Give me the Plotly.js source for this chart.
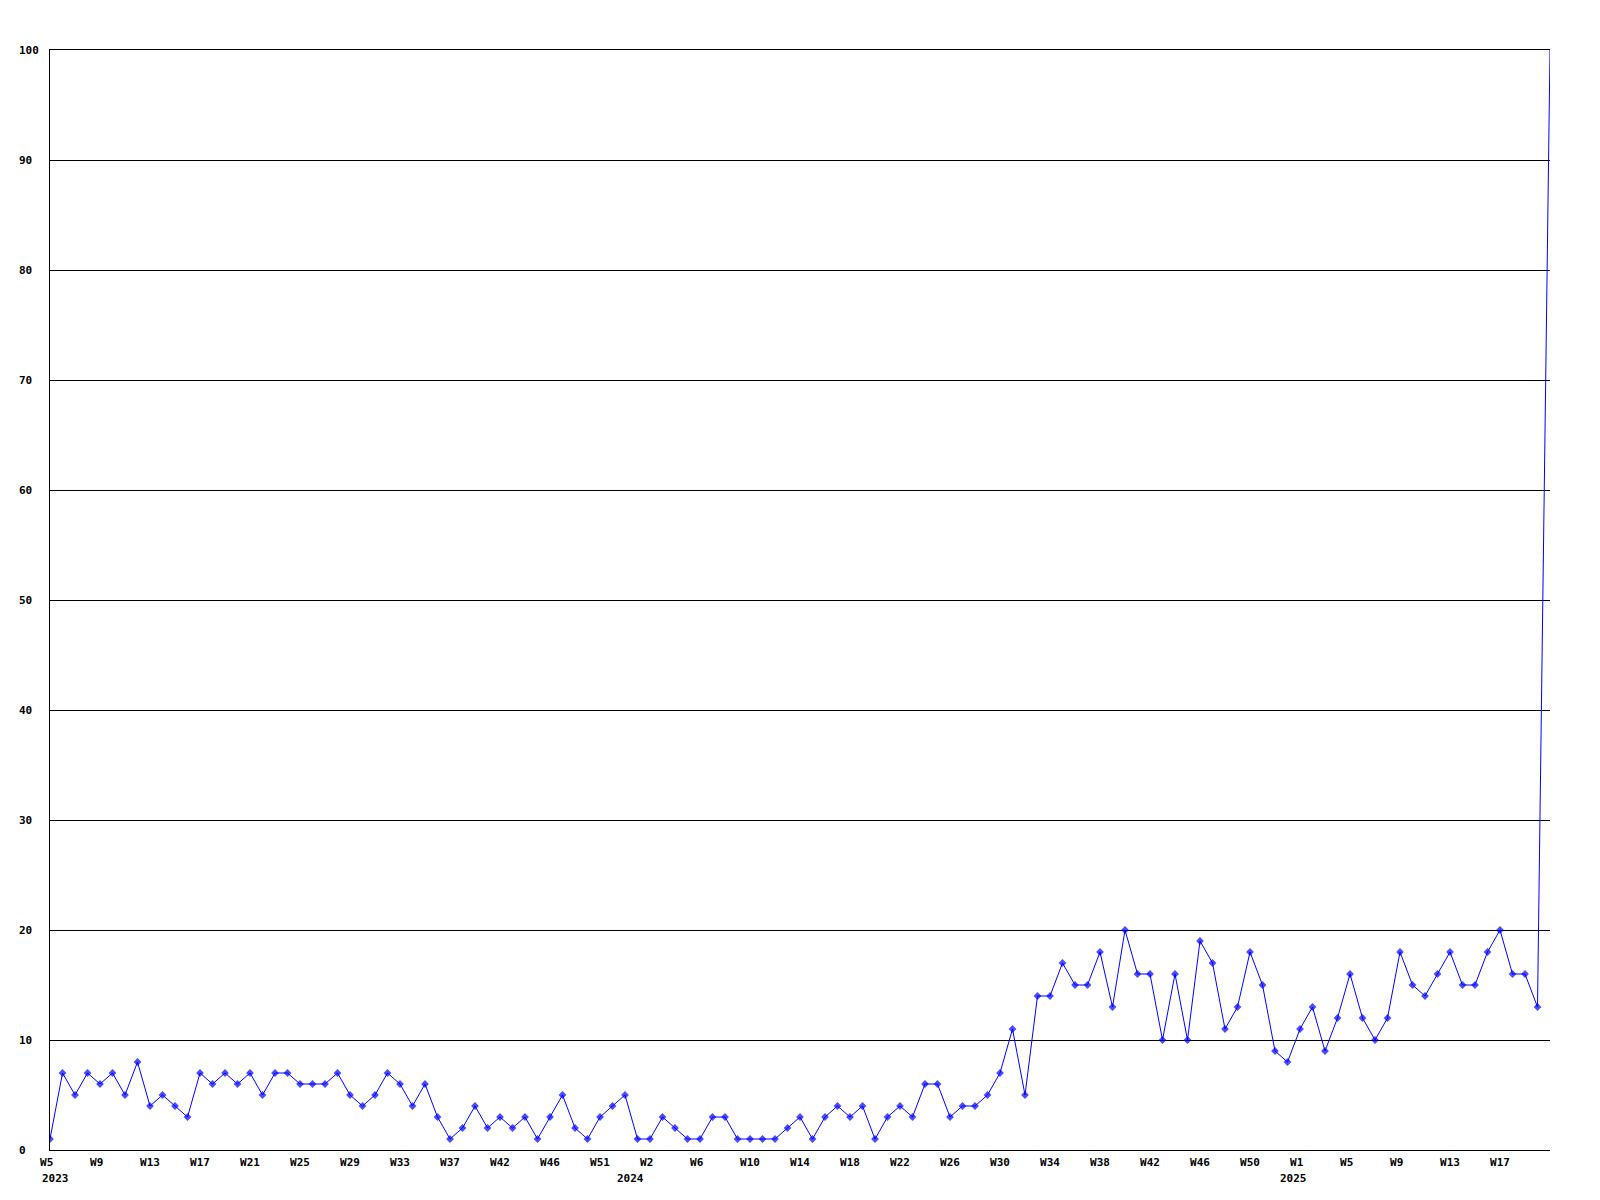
<!DOCTYPE html>
<html>
<head>
<meta charset="utf-8">
<script src="https://cdn.plot.ly/plotly-3.0.1.min.js"></script>
<style>html,body{margin:0;padding:0;background:#fff;}#chart{width:1600px;height:1200px;}</style>
</head>
<body>
<div id="chart"></div>
<script>
// Weekly values, 2023 W5 onward (one per week)
const values2023 = [1,7,5,7,6,7,5,8,4,5,4,3,7,6,7,6,7,5,7,7,6,6,6,7,5,4,5,7,6,4,6,3,1,2,4,2,3,2,3,1,3,5,2,1,3,4,5,1];
const values2024 = [1,3,2,1,1,3,3,1,1,1,1,2,3,1,3,4,3,4,1,3,4,3,6,6,3,4,4,5,7,11,5,14,14,17,15,15,18,13,20,16,16,10,16,10,19,17,11,13,18,15,9,8];
const values2025 = [11,13,9,12,16,12,10,12,18,15,14,16,18,15,15,18,20,16,16,13,100];

const tickLabels = ["W5","W9","W13","W17","W21","W25","W29","W33","W37","W42","W46","W51",
  "W2","W6","W10","W14","W18","W22","W26","W30","W34","W38","W42","W46","W50",
  "W1","W5","W9","W13","W17"];
const yearLabels = ["2023","2024","2025"];
const yearIndex = [0,46,99];

const yTickValues = [0,10,20,30,40,50,60,70,80,90,100];

const values = values2023.concat(values2024, values2025);
const xs = values.map((v,i)=>i);
const tickEvery = 4;
const tickVals = tickLabels.map((t,i)=>i*tickEvery);
const pad = (s,n)=>s + "\u00a0".repeat(Math.max(0,n-s.length));

const font = {family:"DejaVu Sans Mono, Liberation Mono, monospace", size:11, color:"#000"};

const trace = {
  x: xs, y: values, type:"scatter", mode:"lines+markers",
  line:{color:"#0000ff", width:1},
  marker:{color:"#0000ff", symbol:"diamond", size: values.map((v,i)=> i===values.length-1 ? 0 : 6), line:{width:0}},
  hoverinfo:"x+y"
};

const annotations = yearLabels.map((t,i)=>({
  x: yearIndex[i], y: 0, xref:"x", yref:"paper", text:"<b>"+t+"</b>",
  showarrow:false, xanchor:"left", yanchor:"top", xshift:-10, yshift:-20,
  font: font
}));

const layout = {
  width:1600, height:1200,
  margin:{l:50, r:50, t:50, b:50, pad:0},
  paper_bgcolor:"#fff", plot_bgcolor:"#fff",
  showlegend:false,
  font: font,
  xaxis:{
    range:[0, values.length-1], autorange:false,
    tickmode:"array", tickvals:tickVals, ticktext:tickLabels.map(t=>"<b>"+pad(t,3)+"</b>"),
    showgrid:false, zeroline:false, showline:true, mirror:true, linecolor:"#000", linewidth:1,
    ticks:"", tickfont:font, ticklabelstandoff:2
  },
  yaxis:{
    range:[0,100], autorange:false,
    tickmode:"array", tickvals:yTickValues, ticktext:yTickValues.map(v=>"<b>"+pad(String(v),3)+"</b>"),
    showgrid:true, gridcolor:"#000", gridwidth:1,
    zeroline:false, showline:true, linecolor:"#000", linewidth:1,
    ticks:"", tickfont:font, ticklabelstandoff:8
  },
  annotations: annotations
};

Plotly.newPlot("chart", [trace], layout, {displayModeBar:false, staticPlot:true});
</script>
</body>
</html>
